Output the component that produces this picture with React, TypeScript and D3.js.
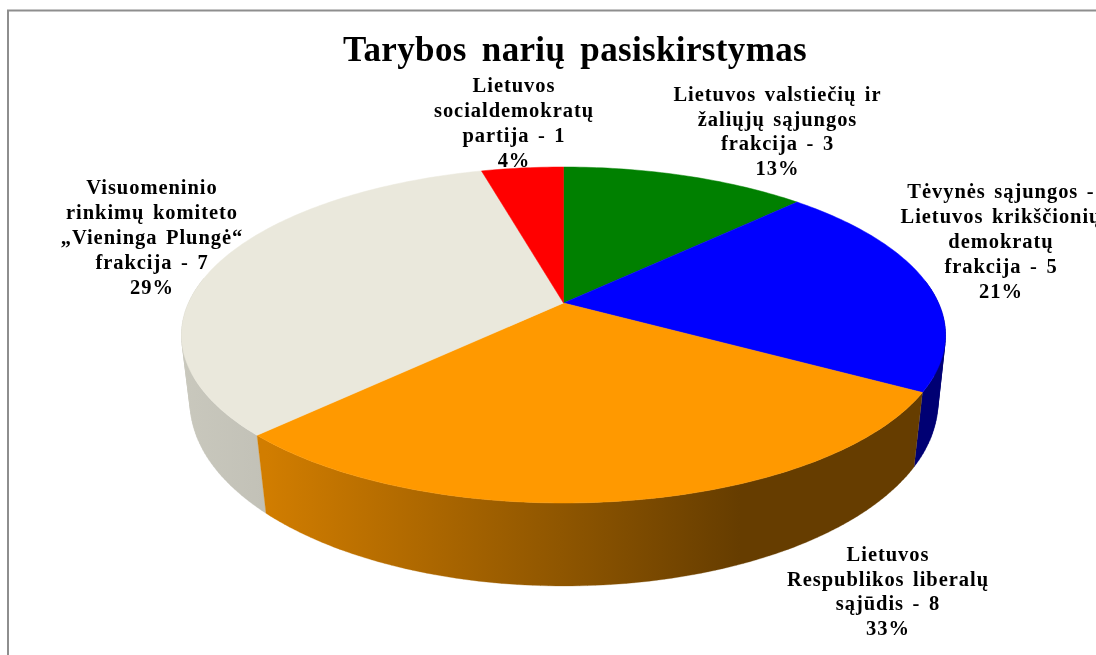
import React from "react";
import * as d3 from "d3";

const title = "Tarybos narių pasiskirstymas";
const names = ["Žalia", "Mėlyna", "Oranžinė", "Smėlio", "Raudona"];
const sliceSizes = [3, 5, 7, 8, 1];
const topColors = ["#008000", "#0000ff", "#ff9900", "#eae8dc", "#ff0000"];
const labelLines = [
  ["Lietuvos valstiečių ir", "žaliųjų sąjungos", "frakcija - 3", "13%"],
  ["Tėvynės sąjungos -", "Lietuvos krikščionių", "demokratų", "frakcija - 5", "21%"],
  ["Lietuvos", "Respublikos liberalų", "sąjūdis - 8", "33%"],
  ["Visuomeninio", "rinkimų komiteto", "„Vieninga Plungė“", "frakcija - 7", "29%"],
  ["Lietuvos", "socialdemokratų", "partija - 1", "4%"],
];
const labelCentres = [777.5, 1001, 888, 152, 514];
const labelBaselines = [101, 198, 561, 194, 92];
const labelSteps = [24.5, 25, 24.7, 25, 25];

const W = 1096, H = 655;
const topFace = { x: 563.5, y: 303, cx: 375, by: 161.9, a: 0.1905 };
const botFace = { x: 564, y: 369.4, cx: 367.8, by: 177.6, a: 0.18 };
type Face = typeof topFace;
const project = (f: Face, t: number): [number, number] => {
  const u = Math.sin(t), v = -Math.cos(t), d = 1 - f.a * v;
  return [f.x + (f.cx * u) / d, f.y + (f.by * v) / d];
};

const shadeStops = [
  { at: [0, 1], k: [0.45, 0.45] },
  { at: [0, 1], k: [0.45, 0.45] },
  { at: [266, 400, 560, 740, 950], k: [0.82, 0.7, 0.56, 0.4, 0.4] },
  { at: [181, 266], k: [0.86, 0.83] },
  { at: [0, 1], k: [0.45, 0.45] },
];
const shaded = (c: string, k: number) => {
  const r = d3.rgb(c);
  return d3.rgb(r.r * k, r.g * k, r.b * k).formatHex();
};

export default function App() {
  const arcs = d3.pie<number>().sort(null).startAngle(0).endAngle(2 * Math.PI)(sliceSizes);
  const line = d3.line();
  const step = Math.PI / 180;
  // One path per slice: every quad has the same winding, so the union fills without seams.
  const walls = arcs.map((s, i) => {
    const parts: string[] = [];
    d3.range(s.startAngle, s.endAngle, step).forEach((t) => {
      const t2 = Math.min(t + step, s.endAngle);
      if (-Math.cos(t) < -0.15) return;
      const p: [number, number][] = [project(topFace, t), project(topFace, t2), project(botFace, t2), project(botFace, t)];
      if (d3.polygonArea(p) < 0) p.reverse();
      parts.push(line(p) + "Z");
    });
    return { slice: i, d: parts.join(""), mid: -Math.cos((s.startAngle + s.endAngle) / 2) };
  }).filter((w) => w.d).sort((a, b) => a.mid - b.mid);
  const tops = arcs.map((s, i) => {
    const pts = d3.range(s.startAngle, s.endAngle, step).map((t) => project(topFace, t));
    pts.push(project(topFace, s.endAngle));
    pts.push([topFace.x, topFace.y]);
    return { d: line(pts) + "Z", fill: topColors[i], name: names[i] };
  });
  return (
    <svg width={W} height={H} style={{ position: "absolute", left: 0, top: 0, background: "#fff" }}>
      <defs>
        <filter id="soft" x="-5%" y="-5%" width="110%" height="110%">
          <feGaussianBlur stdDeviation={0.35} />
        </filter>
        {shadeStops.map((g, i) => {
          const x0 = g.at[0], x1 = g.at[g.at.length - 1];
          return (
            <linearGradient key={i} id={`wall${i}`} gradientUnits="userSpaceOnUse" x1={x0} x2={x1} y1={0} y2={0}>
              {g.at.map((a, j) => (
                <stop key={j} offset={(a - x0) / (x1 - x0)} stopColor={shaded(topColors[i], g.k[j])} />
              ))}
            </linearGradient>
          );
        })}
      </defs>
      <path d={`M8 ${H}V10.5H${W}`} fill="none" stroke="#8e8e8e" strokeWidth={2} />
      <g>
        {walls.map((w) => (
          <path key={w.slice} d={w.d} fill={`url(#wall${w.slice})`} stroke={`url(#wall${w.slice})`} strokeWidth={0.3} />
        ))}
      </g>
      <g>
        {tops.map((t) => (
          <path key={t.name} d={t.d} fill={t.fill} stroke={t.fill} strokeWidth={0.5} />
        ))}
      </g>
      <g fontFamily="'Liberation Serif', serif" fontWeight="bold" fill="#000" textAnchor="middle" filter="url(#soft)">
        <text x={575} y={61} fontSize={35} wordSpacing={6} letterSpacing={0.35}>{title}</text>
        {labelLines.map((lines, i) => (
          <text key={i} fontSize={20.5} wordSpacing={2.5} letterSpacing={0.95}>
            {lines.map((l, j) => (
              <tspan key={j} x={labelCentres[i]} y={labelBaselines[i] + j * labelSteps[i]}>{l}</tspan>
            ))}
          </text>
        ))}
      </g>
    </svg>
  );
}
